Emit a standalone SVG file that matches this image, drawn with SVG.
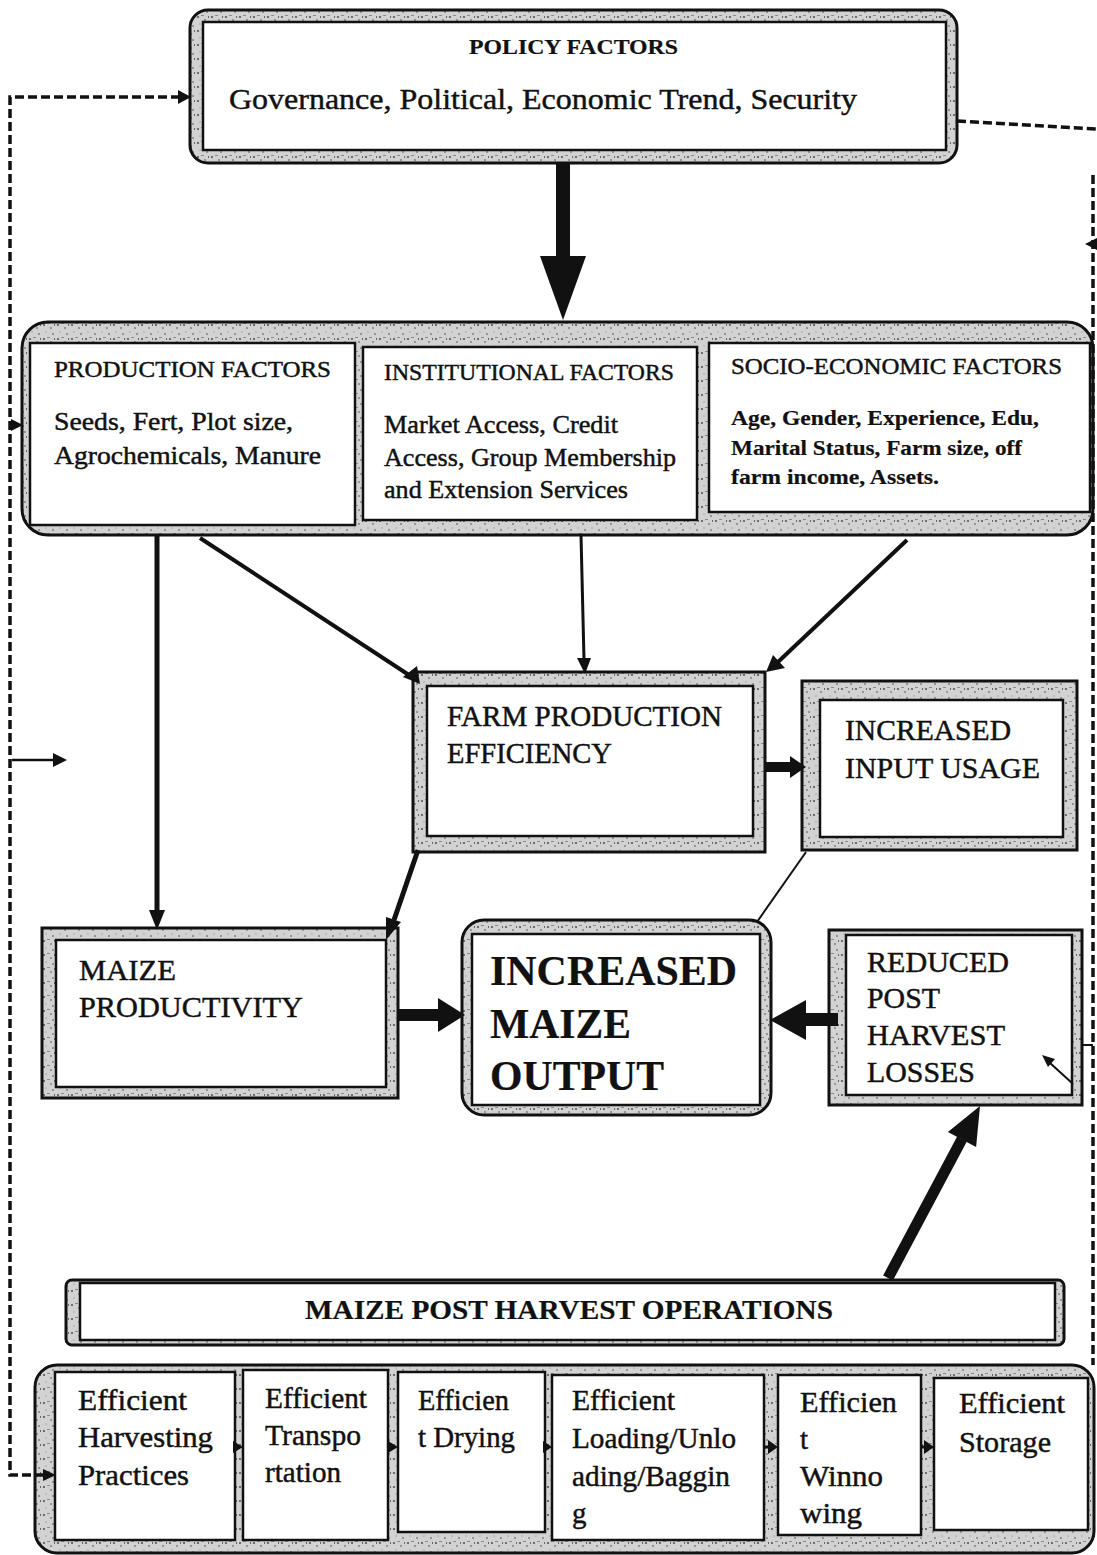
<svg xmlns="http://www.w3.org/2000/svg" width="1097" height="1555" viewBox="0 0 1097 1555">
<defs>
<pattern id="spk" width="14" height="14" patternUnits="userSpaceOnUse">
<rect width="14" height="14" fill="#d2d2d2"/>
<circle cx="2" cy="3" r="1.1" fill="#555"/>
<circle cx="9" cy="6" r="0.9" fill="#777"/>
<rect x="5" y="1" width="3" height="1" fill="#8a8a8a"/>
<circle cx="11" cy="12" r="0.8" fill="#444"/>
<circle cx="4" cy="10" r="0.7" fill="#999"/>
<rect x="12" y="2" width="1" height="2" fill="#666"/>
</pattern>
</defs>
<style>
.frame{fill:url(#spk);stroke:#111;stroke-width:3}
.inner{fill:#fff;stroke:#111;stroke-width:2.5}
.t{font-family:"Liberation Serif","Times New Roman",serif;fill:#111;stroke:#111;stroke-width:0.45}
.b{font-weight:bold;stroke-width:0.2}
.dash{fill:none;stroke:#111;stroke-width:3.5;stroke-dasharray:9 4}
.ln{stroke:#111;fill:none}
.hd{fill:#111}
</style>
<rect width="1097" height="1555" fill="#fff"/>

<g id="policy">
<rect class="frame" x="190" y="10" width="767" height="153" rx="18"/>
<rect class="inner" x="203" y="22" width="743" height="128"/>
<text class="t b" x="469" y="54" font-size="21" textLength="209" lengthAdjust="spacingAndGlyphs">POLICY FACTORS</text>
<text class="t" x="229" y="109" font-size="30" textLength="628" lengthAdjust="spacingAndGlyphs">Governance, Political, Economic Trend, Security</text>
</g>

<g id="factors">
<rect class="frame" x="22" y="322" width="1071" height="213" rx="26"/>
<g id="production">
<rect class="inner" x="30" y="343" width="325" height="182"/>
<text class="t" x="54" y="377" font-size="23" textLength="277" lengthAdjust="spacingAndGlyphs">PRODUCTION FACTORS</text>
<text class="t" x="54" y="430" font-size="25" textLength="239" lengthAdjust="spacingAndGlyphs">Seeds, Fert, Plot size,</text>
<text class="t" x="54" y="464" font-size="25" textLength="267" lengthAdjust="spacingAndGlyphs">Agrochemicals, Manure</text>
</g>
<g id="institutional">
<rect class="inner" x="363" y="347" width="334" height="173"/>
<text class="t" x="384" y="380" font-size="23" textLength="290" lengthAdjust="spacingAndGlyphs">INSTITUTIONAL FACTORS</text>
<text class="t" x="384" y="433" font-size="25" textLength="234" lengthAdjust="spacingAndGlyphs">Market Access, Credit</text>
<text class="t" x="384" y="466" font-size="25" textLength="292" lengthAdjust="spacingAndGlyphs">Access, Group Membership</text>
<text class="t" x="384" y="498" font-size="25" textLength="244" lengthAdjust="spacingAndGlyphs">and Extension Services</text>
</g>
<g id="socio">
<rect class="inner" x="709" y="343" width="381" height="169"/>
<text class="t" x="731" y="374" font-size="23" textLength="331" lengthAdjust="spacingAndGlyphs">SOCIO-ECONOMIC FACTORS</text>
<text class="t b" x="731" y="425" font-size="22" textLength="308" lengthAdjust="spacingAndGlyphs">Age, Gender, Experience, Edu,</text>
<text class="t b" x="731" y="455" font-size="22" textLength="291" lengthAdjust="spacingAndGlyphs">Marital Status, Farm size, off</text>
<text class="t b" x="731" y="484" font-size="22" textLength="208" lengthAdjust="spacingAndGlyphs">farm income, Assets.</text>
</g>
</g>

<g id="farm-efficiency">
<rect class="frame" x="413" y="672" width="352" height="180"/>
<rect class="inner" x="427" y="686" width="326" height="150"/>
<text class="t" x="447" y="726" font-size="29" textLength="275" lengthAdjust="spacingAndGlyphs">FARM PRODUCTION</text>
<text class="t" x="447" y="763" font-size="29" textLength="165" lengthAdjust="spacingAndGlyphs">EFFICIENCY</text>
</g>

<g id="input-usage">
<rect class="frame" x="802" y="681" width="275" height="169"/>
<rect class="inner" x="820" y="700" width="243" height="137"/>
<text class="t" x="845" y="740" font-size="29" textLength="166" lengthAdjust="spacingAndGlyphs">INCREASED</text>
<text class="t" x="845" y="778" font-size="29" textLength="195" lengthAdjust="spacingAndGlyphs">INPUT USAGE</text>
</g>

<g id="maize-productivity">
<rect class="frame" x="42" y="928" width="356" height="170"/>
<rect class="inner" x="56" y="940" width="330" height="147"/>
<text class="t" x="79" y="980" font-size="29" textLength="97" lengthAdjust="spacingAndGlyphs">MAIZE</text>
<text class="t" x="79" y="1017" font-size="29" textLength="224" lengthAdjust="spacingAndGlyphs">PRODUCTIVITY</text>
</g>

<g id="maize-output">
<rect class="frame" x="462" y="920" width="309" height="195" rx="22"/>
<rect class="inner" x="472" y="934" width="288" height="171"/>
<text class="t b" x="490" y="985" font-size="42" textLength="247" lengthAdjust="spacingAndGlyphs">INCREASED</text>
<text class="t b" x="490" y="1038" font-size="42" textLength="141" lengthAdjust="spacingAndGlyphs">MAIZE</text>
<text class="t b" x="490" y="1090" font-size="42" textLength="174" lengthAdjust="spacingAndGlyphs">OUTPUT</text>
</g>

<g id="reduced-losses">
<rect class="frame" x="829" y="930" width="253" height="175"/>
<rect class="inner" x="846" y="935" width="226" height="160"/>
<text class="t" x="867" y="972" font-size="29" textLength="142" lengthAdjust="spacingAndGlyphs">REDUCED</text>
<text class="t" x="867" y="1008" font-size="29" textLength="73" lengthAdjust="spacingAndGlyphs">POST</text>
<text class="t" x="867" y="1045" font-size="29" textLength="138" lengthAdjust="spacingAndGlyphs">HARVEST</text>
<text class="t" x="867" y="1082" font-size="29" textLength="108" lengthAdjust="spacingAndGlyphs">LOSSES</text>
</g>

<g id="post-harvest-ops">
<rect class="frame" x="66" y="1280" width="998" height="65" rx="6"/>
<rect class="inner" x="80" y="1283" width="975" height="57"/>
<text class="t b" x="305" y="1319" font-size="27" textLength="528" lengthAdjust="spacingAndGlyphs">MAIZE POST HARVEST OPERATIONS</text>
</g>

<g id="operations">
<rect class="frame" x="35" y="1365" width="1059" height="188" rx="22"/>
<g id="harvesting">
<rect class="inner" x="55" y="1372" width="180" height="168"/>
<text class="t" x="78" y="1410" font-size="29" textLength="109" lengthAdjust="spacingAndGlyphs">Efficient</text>
<text class="t" x="78" y="1447" font-size="29" textLength="135" lengthAdjust="spacingAndGlyphs">Harvesting</text>
<text class="t" x="78" y="1485" font-size="29" textLength="111" lengthAdjust="spacingAndGlyphs">Practices</text>
</g>
<g id="transportation">
<rect class="inner" x="243" y="1370" width="145" height="170"/>
<text class="t" x="265" y="1408" font-size="29" textLength="102" lengthAdjust="spacingAndGlyphs">Efficient</text>
<text class="t" x="265" y="1445" font-size="29" textLength="96" lengthAdjust="spacingAndGlyphs">Transpo</text>
<text class="t" x="265" y="1482" font-size="29" textLength="76" lengthAdjust="spacingAndGlyphs">rtation</text>
</g>
<g id="drying">
<rect class="inner" x="398" y="1372" width="147" height="160"/>
<text class="t" x="418" y="1410" font-size="29" textLength="91" lengthAdjust="spacingAndGlyphs">Efficien</text>
<text class="t" x="418" y="1447" font-size="29" textLength="97" lengthAdjust="spacingAndGlyphs">t Drying</text>
</g>
<g id="loading">
<rect class="inner" x="552" y="1375" width="212" height="165"/>
<text class="t" x="572" y="1410" font-size="29" textLength="103" lengthAdjust="spacingAndGlyphs">Efficient</text>
<text class="t" x="572" y="1448" font-size="29" textLength="164" lengthAdjust="spacingAndGlyphs">Loading/Unlo</text>
<text class="t" x="572" y="1486" font-size="29" textLength="158" lengthAdjust="spacingAndGlyphs">ading/Baggin</text>
<text class="t" x="572" y="1523" font-size="29">g</text>
</g>
<g id="winnowing">
<rect class="inner" x="778" y="1375" width="143" height="160"/>
<text class="t" x="800" y="1412" font-size="29" textLength="97" lengthAdjust="spacingAndGlyphs">Efficien</text>
<text class="t" x="800" y="1449" font-size="29">t</text>
<text class="t" x="800" y="1486" font-size="29" textLength="83" lengthAdjust="spacingAndGlyphs">Winno</text>
<text class="t" x="800" y="1523" font-size="29" textLength="62" lengthAdjust="spacingAndGlyphs">wing</text>
</g>
<g id="storage">
<rect class="inner" x="934" y="1378" width="154" height="152"/>
<text class="t" x="959" y="1413" font-size="29" textLength="106" lengthAdjust="spacingAndGlyphs">Efficient</text>
<text class="t" x="959" y="1452" font-size="29" textLength="92" lengthAdjust="spacingAndGlyphs">Storage</text>
</g>
</g>

<g id="connectors">
<rect x="556" y="163" width="14" height="95" fill="#111"/>
<polygon class="hd" points="540,256 586,256 563,320"/>
<line class="ln" x1="157" y1="535" x2="157" y2="912" stroke-width="5"/>
<polygon class="hd" points="149,910 165,910 157,930"/>
<line class="ln" x1="200" y1="538" x2="412" y2="677" stroke-width="4"/>
<polygon class="hd" points="403,677 417,666 420,684"/>
<line class="ln" x1="581" y1="535" x2="584" y2="660" stroke-width="3"/>
<polygon class="hd" points="577,658 591,658 585,674"/>
<line class="ln" x1="907" y1="540" x2="778" y2="662" stroke-width="4"/>
<polygon class="hd" points="773,655 785,668 766,672"/>
<rect x="765" y="762" width="26" height="10" fill="#111"/>
<polygon class="hd" points="790,756 806,767 790,778"/>
<line class="ln" x1="806" y1="852" x2="757" y2="922" stroke-width="2"/>
<line class="ln" x1="418" y1="850" x2="394" y2="920" stroke-width="5"/>
<polygon class="hd" points="386,917 401,922 386,940"/>
<rect x="398" y="1009" width="42" height="12" fill="#111"/>
<polygon class="hd" points="438,998 465,1015 438,1032"/>
<rect x="805" y="1013" width="33" height="13" fill="#111"/>
<polygon class="hd" points="806,1000 770,1020 806,1040"/>
<line class="ln" x1="1072" y1="1083" x2="1050" y2="1063" stroke-width="2"/>
<polygon class="hd" points="1042,1055 1055,1059 1048,1067"/>
<line class="ln" x1="1082" y1="1045" x2="1093" y2="1045" stroke-width="2"/>
<line class="ln" x1="888" y1="1278" x2="962" y2="1139" stroke-width="11"/>
<polygon class="hd" points="980,1106 947.9,1131.9 976.1,1147.1"/>
<polygon class="hd" points="233,1441 243,1447 233,1453"/>
<polygon class="hd" points="388,1441 398,1447 388,1453"/>
<polygon class="hd" points="543,1441 552,1447 543,1453"/>
<line class="ln" x1="764" y1="1447" x2="770" y2="1447" stroke-width="3"/>
<polygon class="hd" points="768,1440 778,1447 768,1454"/>
<line class="ln" x1="921" y1="1447" x2="926" y2="1447" stroke-width="3"/>
<polygon class="hd" points="924,1440 934,1447 924,1454"/>
<path class="dash" d="M180 97 L10 97 L10 1475 L45 1475"/>
<polygon class="hd" points="178,90 191,97 178,104"/>
<polygon class="hd" points="43,1469 56,1475 43,1481"/>
<polygon class="hd" points="11,419 23,425 11,431"/>
<line class="ln" x1="12" y1="760" x2="55" y2="760" stroke-width="2.5"/>
<polygon class="hd" points="53,753 67,760 53,767"/>
<path class="dash" d="M957 121 L1097 129"/>
<path class="dash" d="M1093 175 L1093 1365"/>
<polygon class="hd" points="1097,238 1085,244 1097,250"/>
</g>
</svg>
